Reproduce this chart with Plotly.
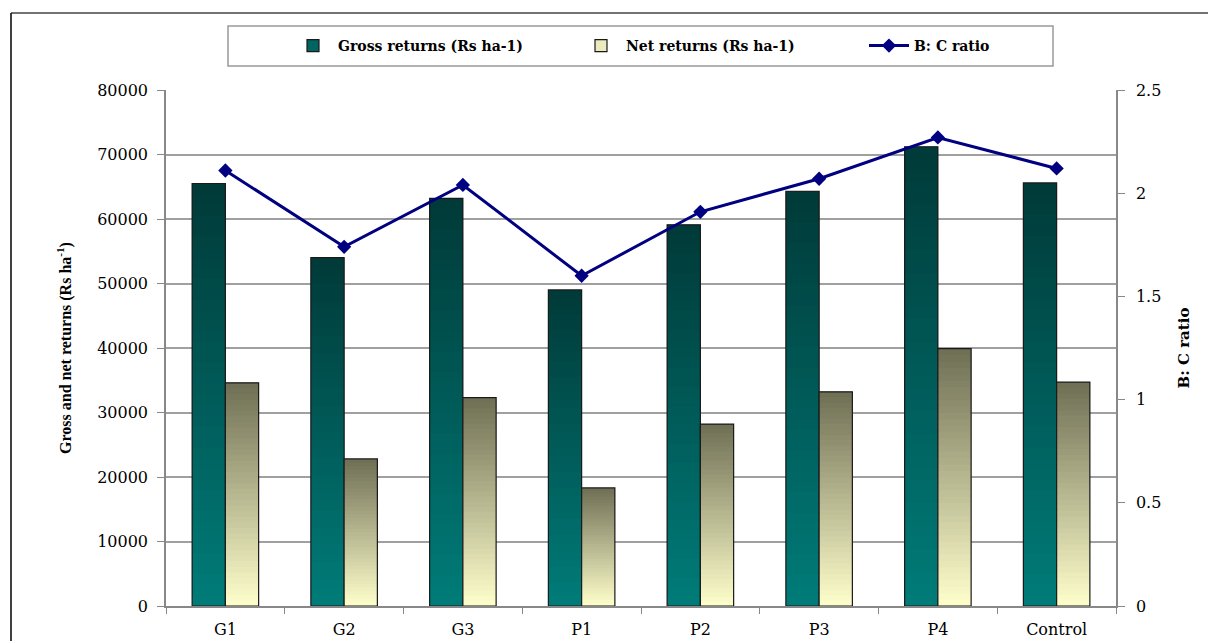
import plotly.graph_objects as go

categories = ["G1", "G2", "G3", "P1", "P2", "P3", "P4", "Control"]
gross_returns = [65500, 54000, 63200, 49000, 59100, 64300, 71200, 65600]
net_returns = [34600, 22800, 32300, 18300, 28200, 33200, 39900, 34700]
bc_ratio = [2.11, 1.74, 2.04, 1.60, 1.91, 2.07, 2.27, 2.12]

W, H = 1208, 641
L, R, T, B = 166, 1116, 90, 606  # plot area in pixels


def px(x):
    return (x - L) / (R - L)


def py(y):
    return (B - y) / (B - T)


def lerp(c1, c2, t):
    return "rgb(%d,%d,%d)" % tuple(round(a + (b - a) * t) for a, b in zip(c1, c2))


FONT = "DejaVu Serif"
TITLE_FONT = "Liberation Serif"
N = 40
gross_top, gross_bot = (0, 58, 56), (0, 124, 121)
net_top, net_bot = (110, 110, 84), (255, 255, 204)

fig = go.Figure()


def add_gradient(values, top, bot, group, name, legend_color):
    for k in range(N):
        t = (k + 0.5) / N  # 0 at bottom, 1 at top
        col = lerp(bot, top, t)
        bases = [v * k / N for v in values]
        heights = [min(2.0 * v / N, v - b) for v, b in zip(values, bases)]
        fig.add_trace(go.Bar(
            x=categories,
            y=heights,
            base=bases,
            offsetgroup=group,
            marker=dict(color=col, line=dict(width=0)),
            showlegend=False,
            hoverinfo="skip",
        ))
    # outline
    fig.add_trace(go.Bar(
        x=categories,
        y=values,
        offsetgroup=group,
        name=name,
        marker=dict(color="rgba(0,0,0,0)", line=dict(color="#1a1a1a", width=1.2)),
        showlegend=False,
    ))
    # legend entry
    fig.add_trace(go.Bar(
        x=[None], y=[None], offsetgroup=group, name=name,
        marker=dict(color=legend_color, line=dict(color="#1a1a1a", width=1.2)),
        showlegend=True,
    ))


add_gradient(gross_returns, gross_top, gross_bot, "g", "Gross returns (Rs ha-1)", "rgb(0,100,98)")
add_gradient(net_returns, net_top, net_bot, "n", "Net returns (Rs ha-1)", "rgb(235,235,190)")

fig.add_trace(go.Scatter(
    x=categories, y=bc_ratio, yaxis="y2", name="B: C ratio",
    mode="lines+markers",
    line=dict(color="#000080", width=3),
    marker=dict(symbol="diamond", size=11, color="#000080"),
))

fig.update_layout(
    width=W, height=H,
    margin=dict(l=L, r=W - R, t=T, b=H - B, autoexpand=False),
    paper_bgcolor="white", plot_bgcolor="white",
    barmode="group", bargap=0.44, bargroupgap=0,
    font=dict(family=FONT, size=16, color="black"),
    showlegend=True,
    legend=dict(
        orientation="h", x=px(288), y=py(46), xanchor="left", yanchor="middle",
        font=dict(family=FONT, size=14, color="black", weight="bold"),
        entrywidth=233, entrywidthmode="pixels",
        bgcolor="rgba(0,0,0,0)", itemwidth=40,
    ),
    xaxis=dict(
        type="category", showgrid=False, showline=True, linecolor="#888888", linewidth=1.5,
        ticks="outside", ticklen=6, tickcolor="#888888", tickson="boundaries",
        tickfont=dict(family=FONT, size=16), range=[-0.5, 7.5], ticklabelstandoff=8,
        automargin=False,
    ),
    yaxis=dict(
        range=[0, 80000], dtick=10000, showgrid=True, gridcolor="#a0a0a0", gridwidth=1.5,
        showline=True, linecolor="#888888", linewidth=1.5, ticks="outside", ticklen=7,
        tickcolor="#888888", tickformat="d", zeroline=False, ticklabelstandoff=6,
        tickfont=dict(family=FONT, size=16), automargin=False,
        title=dict(text="<b>Gross and net returns (Rs ha<sup>-1</sup>)</b>",
                   font=dict(family=TITLE_FONT, size=16), standoff=22),
    ),
    yaxis2=dict(
        range=[0, 2.5], dtick=0.5, overlaying="y", side="right", showgrid=False,
        showline=True, linecolor="#888888", linewidth=1.5, ticks="outside", ticklen=7,
        tickcolor="#888888", zeroline=False, tickfont=dict(family=FONT, size=16),
        ticklabelstandoff=8, automargin=False,
        title=dict(text="<b>B: C ratio</b>", font=dict(family=FONT, size=15), standoff=18),
    ),
    shapes=[
        dict(type="rect", xref="paper", yref="paper", x0=px(228), x1=px(1053),
             y0=py(66), y1=py(26), line=dict(color="#999999", width=1.5)),
        dict(type="line", xref="paper", yref="paper", x0=px(11), x1=px(1208),
             y0=py(13), y1=py(13), line=dict(color="#444444", width=1.5)),
        dict(type="line", xref="paper", yref="paper", x0=px(11), x1=px(11),
             y0=py(13), y1=py(641), line=dict(color="black", width=1.5)),
    ],
)

fig.write_html("out.html")
